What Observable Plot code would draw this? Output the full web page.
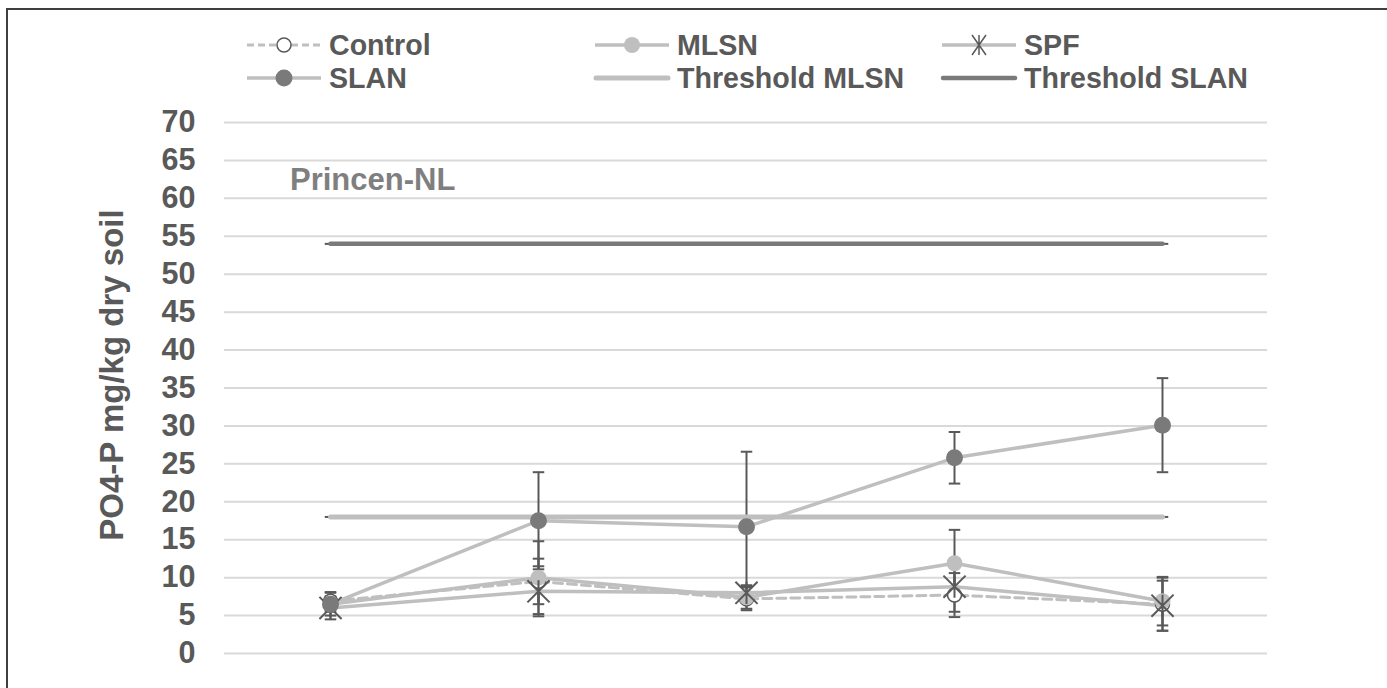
<!DOCTYPE html>
<html>
<head>
<meta charset="utf-8">
<script src="https://cdn.jsdelivr.net/npm/d3@7"></script>
<script src="https://cdn.jsdelivr.net/npm/@observablehq/plot@0.6"></script>
<style>
  html, body { margin: 0; padding: 0; background: #fff; }
  #wrap { position: relative; width: 1387px; height: 688px; overflow: hidden; font-family: "Liberation Sans", Arial, sans-serif; font-weight: bold; color: #595959; }
  #frame { position: absolute; left: 6px; top: 8px; right: -10px; bottom: -10px; border-top: 2px solid #3f3f3f; border-left: 2px solid #3f3f3f; }
  #chart { position: absolute; left: 0; top: 100px; }
  .leg { position: absolute; height: 34px; display: flex; align-items: center; font-size: 28.6px; white-space: nowrap; }
  .leg svg { margin-right: 6px; }
  #ytitle { position: absolute; left: 112px; top: 375px; transform: translate(-50%, -50%) rotate(-90deg); font-size: 33px; white-space: nowrap; }
  #site { position: absolute; left: 290px; top: 162px; font-size: 31px; color: #7f7f7f; }
</style>
</head>
<body>
<div id="wrap">
  <div id="frame"></div>
  <div id="legend"></div>
  <div id="ytitle">PO4-P mg/kg dry soil</div>
  <div id="site">Princen-NL</div>
  <div id="chart"></div>
</div>
<script>
// ---- data ----
const categories = ["1", "2", "3", "4", "5"];
const controlValues = [6.9, 9.5, 7.2, 7.7, 6.5];
const controlErr    = [1.2, 3.0, 1.5, 2.9, 3.5];
const mlsnValues    = [6.5, 10.0, 7.4, 11.9, 6.9];
const mlsnErr       = [1.5, 4.8, 1.5, 4.4, 3.2];
const spfValues     = [6.0, 8.2, 8.0, 8.8, 6.3];
const spfErr        = [1.5, 3.3, 1.0, 3.3, 3.3];
const slanValues    = [6.5, 17.5, 16.7, 25.8, 30.1];
const slanErr       = [1.0, 6.4, 9.9, 3.4, 6.2];
const thresholdMLSN = [18, 18, 18, 18, 18];
const thresholdSLAN = [54, 54, 54, 54, 54];
const yTicks = [0, 5, 10, 15, 20, 25, 30, 35, 40, 45, 50, 55, 60, 65, 70];

const seriesNames = ["Control", "MLSN", "SPF", "SLAN"];
const seriesVals = [controlValues, mlsnValues, spfValues, slanValues];
const seriesErrs = [controlErr, mlsnErr, spfErr, slanErr];

const rows = [];
seriesNames.forEach((s, si) => categories.forEach((c, i) => {
  rows.push({series: s, cat: c, v: seriesVals[si][i], e: seriesErrs[si][i]});
}));
const thrRows = [];
categories.forEach((c, i) => {
  thrRows.push({series: "Threshold MLSN", cat: c, v: thresholdMLSN[i]});
  thrRows.push({series: "Threshold SLAN", cat: c, v: thresholdSLAN[i]});
});
const of = s => rows.filter(d => d.series === s);

// custom symbols
const starSymbol = {draw(ctx, size) {
  const r = Math.sqrt(size) / 2;
  ctx.moveTo(-r, -r); ctx.lineTo(r, r);
  ctx.moveTo(-r, r); ctx.lineTo(r, -r);
  ctx.moveTo(0, -r); ctx.lineTo(0, r);
}};
const capSymbol = {draw(ctx, size) {
  const r = Math.sqrt(size) / 2;
  ctx.moveTo(-r, 0); ctx.lineTo(r, 0);
}};

const light = "#bfbfbf", dark = "#7a7a7a", ink = "#595959";

const errMarks = [
  Plot.ruleX(rows, {x: "cat", y1: d => d.v - d.e, y2: d => d.v + d.e, stroke: ink, strokeWidth: 2}),
  Plot.dot(rows, {x: "cat", y: d => d.v + d.e, symbol: capSymbol, r: 6.5, stroke: ink, strokeWidth: 2}),
  Plot.dot(rows, {x: "cat", y: d => d.v - d.e, symbol: capSymbol, r: 6.5, stroke: ink, strokeWidth: 2}),
  Plot.dot(thrRows, {x: "cat", y: "v", symbol: capSymbol, r: 6.5, stroke: ink, strokeWidth: 2})
];

const chart = Plot.plot({
  width: 1387,
  height: 588,
  marginLeft: 224,
  marginRight: 120,
  marginTop: 22,
  marginBottom: 35,
  style: {fontFamily: "'Liberation Sans', Arial, sans-serif", fontWeight: "bold", fontSize: "30px", color: ink, background: "transparent"},
  x: {type: "point", domain: categories, padding: 0.5, axis: null},
  y: {domain: [0, 70], axis: null},
  marks: [
    Plot.ruleY(yTicks, {stroke: "#d9d9d9", strokeWidth: 2}),
    Plot.axisY({ticks: yTicks, tickSize: 0, tickPadding: 29, label: null, fontSize: 30.5, fontWeight: "bold", fill: ink}),
    ...errMarks,
    Plot.line(of("Control"), {x: "cat", y: "v", stroke: light, strokeWidth: 3, strokeDasharray: "9,5"}),
    Plot.line(of("MLSN"), {x: "cat", y: "v", stroke: light, strokeWidth: 3.5}),
    Plot.line(of("SPF"), {x: "cat", y: "v", stroke: light, strokeWidth: 3.5}),
    Plot.line(of("SLAN"), {x: "cat", y: "v", stroke: light, strokeWidth: 3.5}),
    Plot.line(thrRows.filter(d => d.series === "Threshold MLSN"), {x: "cat", y: "v", stroke: light, strokeWidth: 5, strokeLinecap: "round"}),
    Plot.line(thrRows.filter(d => d.series === "Threshold SLAN"), {x: "cat", y: "v", stroke: dark, strokeWidth: 4.5, strokeLinecap: "round"}),
    Plot.dot(of("Control"), {x: "cat", y: "v", r: 7, fill: "white", stroke: ink, strokeWidth: 1.5}),
    Plot.dot(of("MLSN"), {x: "cat", y: "v", r: 8, fill: light}),
    Plot.dot(of("SPF"), {x: "cat", y: "v", symbol: starSymbol, r: 12.5, stroke: ink, strokeWidth: 2}),
    Plot.dot(of("SLAN"), {x: "cat", y: "v", r: 8.5, fill: dark})
  ]
});
document.getElementById("chart").appendChild(chart);

// ---- legend (HTML) ----
const legendItems = [
  {name: "Control", x: 245, y: 28, kind: "control"},
  {name: "MLSN", x: 593, y: 28, kind: "mlsn"},
  {name: "SPF", x: 940, y: 28, kind: "spf"},
  {name: "SLAN", x: 245, y: 61, kind: "slan"},
  {name: "Threshold MLSN", x: 593, y: 61, kind: "tmlsn"},
  {name: "Threshold SLAN", x: 940, y: 61, kind: "tslan"}
];
function legendSymbol(kind) {
  const w = 78, h = 34, c = h / 2, m = w / 2;
  let s = `<svg width="${w}" height="${h}" viewBox="0 0 ${w} ${h}">`;
  if (kind === "control") {
    s += `<line x1="2" y1="${c}" x2="${w-2}" y2="${c}" stroke="${light}" stroke-width="3" stroke-dasharray="7,4"/>`;
    s += `<circle cx="${m}" cy="${c}" r="7" fill="white" stroke="${ink}" stroke-width="1.5"/>`;
  } else if (kind === "mlsn") {
    s += `<line x1="2" y1="${c}" x2="${w-2}" y2="${c}" stroke="${light}" stroke-width="3.5"/>`;
    s += `<circle cx="${m}" cy="${c}" r="8" fill="${light}"/>`;
  } else if (kind === "spf") {
    s += `<line x1="2" y1="${c}" x2="${w-2}" y2="${c}" stroke="${light}" stroke-width="3.5"/>`;
    s += `<path d="M${m-7},${c-10}L${m+7},${c+10}M${m-7},${c+10}L${m+7},${c-10}M${m},${c-10}L${m},${c+10}" stroke="${ink}" stroke-width="1.5" fill="none"/>`;
  } else if (kind === "slan") {
    s += `<line x1="2" y1="${c}" x2="${w-2}" y2="${c}" stroke="${light}" stroke-width="3.5"/>`;
    s += `<circle cx="${m}" cy="${c}" r="8.5" fill="${dark}"/>`;
  } else if (kind === "tmlsn") {
    s += `<line x1="3" y1="${c}" x2="${w-3}" y2="${c}" stroke="${light}" stroke-width="5" stroke-linecap="round"/>`;
  } else {
    s += `<line x1="3" y1="${c}" x2="${w-3}" y2="${c}" stroke="${dark}" stroke-width="4.5" stroke-linecap="round"/>`;
  }
  return s + `</svg>`;
}
const legend = document.getElementById("legend");
legendItems.forEach(it => {
  const d = document.createElement("div");
  d.className = "leg";
  d.style.left = it.x + "px";
  d.style.top = it.y + "px";
  d.innerHTML = legendSymbol(it.kind) + `<span>${it.name}</span>`;
  legend.appendChild(d);
});
</script>
</body>
</html>
